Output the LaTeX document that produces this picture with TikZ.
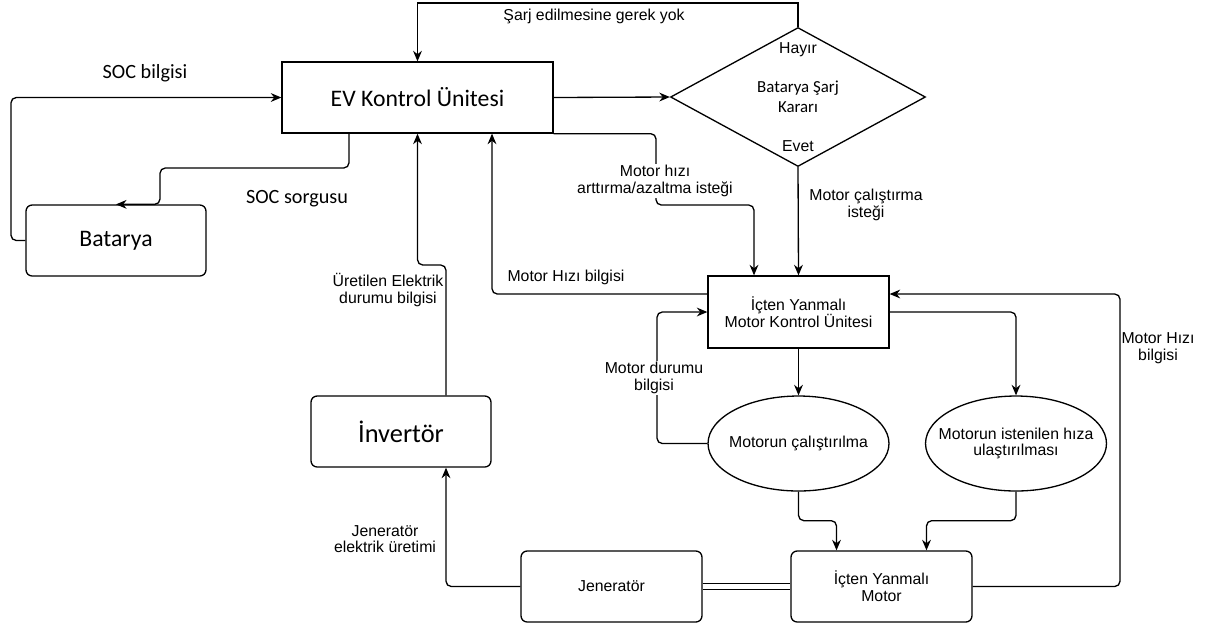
\documentclass[tikz,border=0pt]{standalone}
\usepackage{fontspec}
\setmainfont{Carlito}
\newfontfamily\arialf{Liberation Sans}
\usetikzlibrary{shapes.geometric,arrows.meta}

\begin{document}
\begin{tikzpicture}[x=0.02cm,y=-0.02cm,
  blok/.style={draw,line width=0.75pt,inner sep=0pt,minimum width=3.62cm,minimum height=1.42cm,align=center,font=\arialf\fontsize{9}{9.5}\selectfont},
  yblok/.style={blok,rounded corners=3.5pt},
  oval/.style={draw,ellipse,line width=0.75pt,inner sep=0pt,minimum width=3.62cm,minimum height=1.9cm},
  karar/.style={draw,diamond,aspect=1.8,line width=0.75pt,inner sep=0pt,minimum width=5.1cm,minimum height=2.78cm,align=center,font=\fontsize{9.6}{11.3}\selectfont},
  yazi/.style={font=\arialf\fontsize{9}{9.5}\selectfont,align=center,inner sep=1pt},
  ok/.style={draw,line width=0.75pt,-{Stealth[length=6pt,width=5pt]},rounded corners=3pt}]
  \useasboundingbox (0,0) rectangle (1209,627);

  \node[blok,minimum width=5.42cm,font=\fontsize{13.5}{15}\selectfont] (ev) at (417.5,97.5) {EV Kontrol Ünitesi};
  \node[karar] (dec) at (798,97) {Batarya Şarj\\Kararı};
  \node[yazi] (hayir) at (798,50) {Hayır};
  \node[yazi] (evet) at (798,146) {Evet};
  \node[yblok,minimum width=3.6cm,font=\fontsize{13.5}{15}\selectfont] (bat) at (116,240.5) {Batarya};
  \node[yblok,minimum width=3.6cm,font=\fontsize{15}{17}\selectfont] (inv) at (401,431.5) {İnvertör};
  \node[blok,minimum height=1.44cm] (mcu) at (798.5,312) {İçten Yanmalı\\Motor Kontrol Ünitesi};
  \node[oval,label={[yazi]center:Motorun çalıştırılma}] (el1) at (798.5,443.5) {};
  \node[oval,label={[yazi]center:Motorun istenilen hıza\\ulaştırılması}] (el2) at (1016,443.5) {};
  \node[yblok] (jen) at (611.5,586.5) {Jeneratör};
  \node[yblok] (mot) at (881.5,586.5) {İçten Yanmalı\\Motor};

  \draw[ok,rounded corners=0pt] (dec.north) -- (798,3) -- (417.5,3) -- (ev.north);
  \node[yazi] (l1) at (594,16) {Şarj edilmesine gerek yok};
  \draw[ok] (ev.east) -- (dec.west);
  \draw[ok] (bat.west) -- (11,0 |- bat.west) |- (ev.west);
  \node[font=\fontsize{11.5}{13}\selectfont] (l2) at (145,73) {SOC bilgisi};
  \draw[ok] (349,0 |- ev.south) -- (349,168) -- (160,168) -- (160,0 |- bat.north) -- (bat.north);
  \node[font=\fontsize{11.5}{13}\selectfont] (l3) at (297,199) {SOC sorgusu};
  \draw[ok] (446,0 |- inv.north) -- (446,265) -| (ev.south);
  \node[yazi] (l4) at (388,290) {Üretilen Elektrik\\durumu bilgisi};
  \draw[ok] (jen.west) -| (446,0 |- inv.south);
  \node[yazi] (l5) at (385,539) {Jeneratör\\elektrik üretimi};
  \draw[line width=0.75pt,double,double distance=2.6pt] (jen.east) -- (mot.west);
  \draw[ok] (mot.east) -- (1120,0 |- mot.east) -- (1120,294) -- (mcu.east |- 0,294);
  \node[yazi] (l6) at (1158,348) {Motor Hızı\\bilgisi};
  \draw[ok] (mcu.west |- 0,294) -- (492,294) -- (492,0 |- ev.south);
  \node[yazi] (l7) at (566,277) {Motor Hızı bilgisi};
  \draw[ok] (ev.south east) -- (656,0 |- ev.south east) -- (656,205) -- (754,205) -- (754,0 |- mcu.north);
  \node[yazi,fill=white] (l8) at (655,181) {Motor hızı\\arttırma/azaltma isteği};
  \draw[ok] (dec.south) -- (mcu.north);
  \node[yazi] (l9) at (866,205) {Motor çalıştırma\\isteği};
  \draw[ok] (el1.west) -- (657,0 |- el1.west) |- (mcu.west);
  \node[yazi,fill=white] (l10) at (654,378) {Motor durumu\\bilgisi};
  \draw[ok] (mcu.south) -- (el1.north);
  \draw[ok] (mcu.east) -| (el2.north);
  \draw[ok] (el1.south) -- ++(0,29) -| ([xshift=-0.9cm]mot.north);
  \draw[ok] (el2.south) -- ++(0,29) -| ([xshift=0.9cm]mot.north);
\end{tikzpicture}
\end{document}
